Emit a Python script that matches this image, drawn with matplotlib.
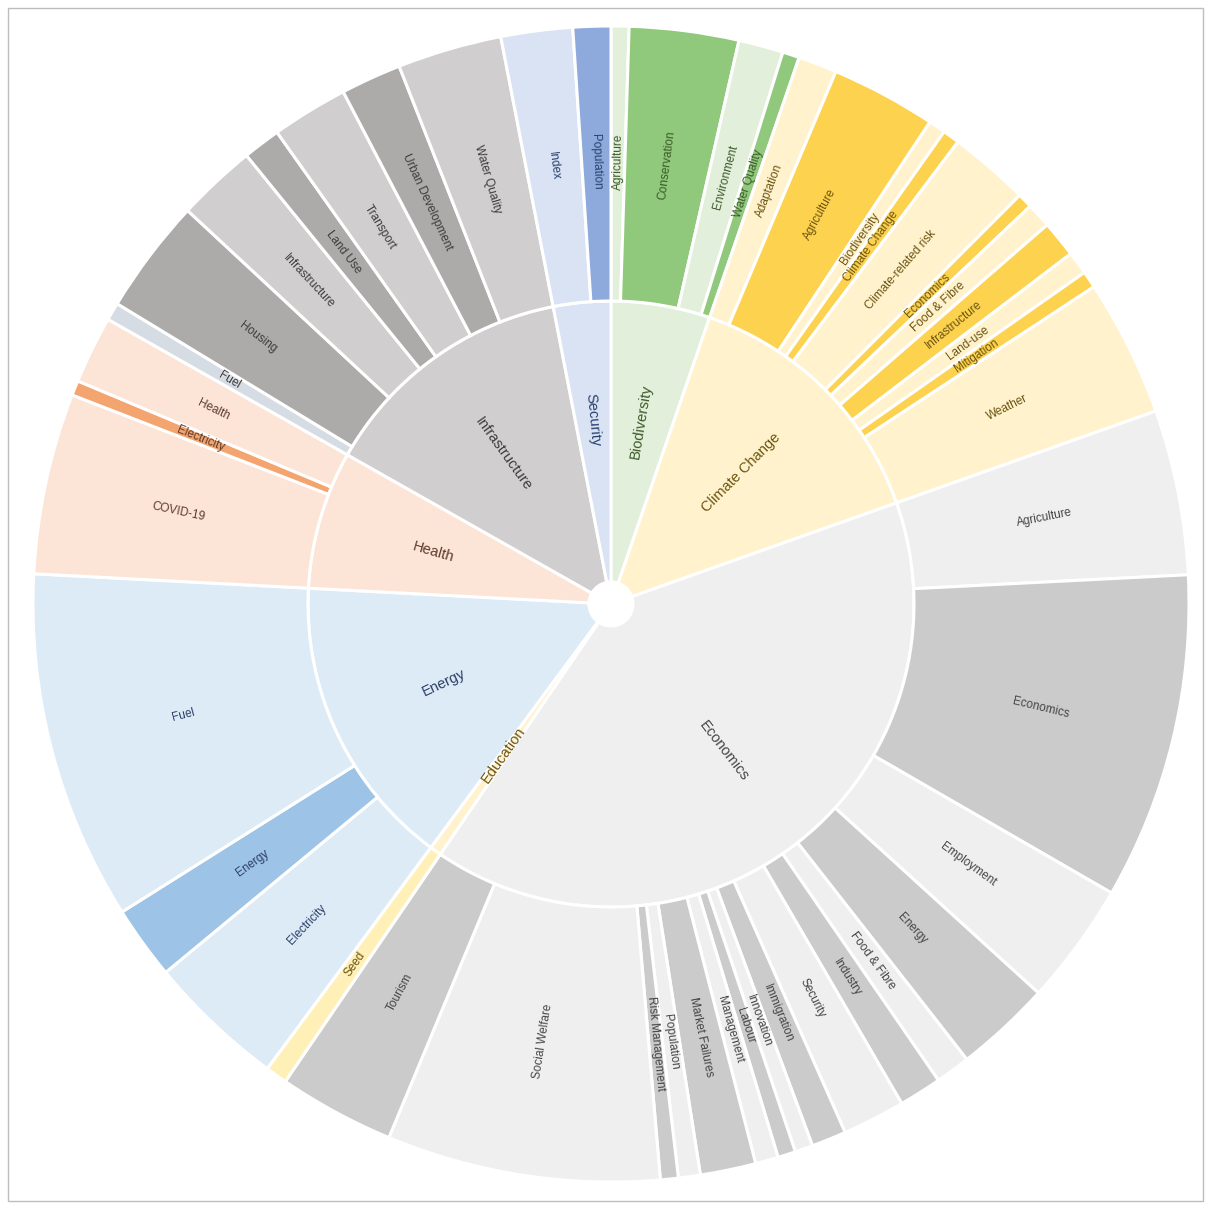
import matplotlib
matplotlib.use("Agg")
import matplotlib.pyplot as plt
from matplotlib.patches import Rectangle

# ---------------- data ----------------
groups = ["Biodiversity", "Climate Change", "Economics", "Education",
          "Energy", "Health", "Infrastructure", "Security"]

bio_labels = ["Agriculture", "Conservation", "Environment", "Water Quality"]
bio_values = [1.8, 11.0, 4.5, 1.7]

cc_labels = ["Adaptation", "Agriculture", "Biodiversity", "Climate Change",
             "Climate-related risk", "Economics", "Food & Fibre",
             "Infrastructure", "Land-use", "Mitigation", "Weather"]
cc_values = [3.9, 10.6, 1.7, 1.7, 8.1, 1.5, 2.5, 3.7, 2.3, 1.7, 13.8]

eco_labels = ["Agriculture", "Economics", "Employment", "Energy",
              "Food & Fibre", "Industry", "Security", "Immigration",
              "Innovation", "Labour", "Management", "Market Failures",
              "Population", "Risk Management", "Social Welfare", "Tourism"]
eco_values = [16.6, 32.9, 12.3, 9.7, 3.5, 4.3, 6.3, 3.5,
              1.8, 1.8, 2.3, 5.6, 2.2, 1.8, 27.5, 11.7]

edu_labels = ["Seed"]
edu_values = [2.2]

energy_labels = ["Electricity", "Energy", "Fuel"]
energy_values = [13.9, 7.4, 35.2]

health_labels = ["COVID-19", "Electricity", "Health"]
health_values = [18.2, 1.5, 6.8]

infra_labels = ["Fuel", "Housing", "Infrastructure", "Land Use",
                "Transport", "Urban Development", "Water Quality"]
infra_values = [1.8, 11.6, 8.0, 3.8, 7.7, 6.1, 10.5]

sec_labels = ["Index", "Population"]
sec_values = [7.2, 3.8]

children_labels = [bio_labels, cc_labels, eco_labels, edu_labels,
                   energy_labels, health_labels, infra_labels, sec_labels]
children_values = [bio_values, cc_values, eco_values, edu_values,
                   energy_values, health_values, infra_values, sec_values]

# ---------------- style ----------------
light = {"Biodiversity": "#e2efda", "Climate Change": "#fff2cc",
         "Economics": "#efefef", "Education": "#fff2cc",
         "Energy": "#ddebf7", "Health": "#fce4d6",
         "Infrastructure": "#d0cece", "Security": "#dae3f3"}
dark = {"Biodiversity": "#90c97b", "Climate Change": "#fdd24e",
        "Economics": "#cbcbcb", "Education": "#fff0b8",
        "Energy": "#9dc3e6", "Health": "#f4a46e",
        "Infrastructure": "#adaaaa", "Security": "#8eaadc"}
text_col = {"Biodiversity": "#3d5a2a", "Climate Change": "#6b5410",
            "Economics": "#444444", "Education": "#6b5410",
            "Energy": "#2c3f66", "Health": "#5c3b2a",
            "Infrastructure": "#3d3b3b", "Security": "#27406e"}

inner_colors = [light[g] for g in groups]
outer_colors, outer_text_colors, outer_labels, outer_values = [], [], [], []
for g, labs, vals in zip(groups, children_labels, children_values):
    for i, (lab, v) in enumerate(zip(labs, vals)):
        if g == "Education":
            c = dark[g]
        elif g == "Infrastructure" and lab == "Fuel":
            c = "#d6dce4"
        else:
            c = light[g] if i % 2 == 0 else dark[g]
        outer_colors.append(c)
        outer_text_colors.append(text_col[g])
        outer_labels.append(lab)
        outer_values.append(v)
inner_values = [sum(v) for v in children_values]

# ---------------- figure ----------------
W, H = 1211, 1210
fig = plt.figure(figsize=(W / 100, H / 100), dpi=100)
fig.patch.set_facecolor("white")
cx, cy, R = 611, 604, 578
ax = fig.add_axes([(cx - R) / W, (H - cy - R) / H, 2 * R / W, 2 * R / H])
ax.set_xlim(-1, 1)
ax.set_ylim(-1, 1)
ax.set_aspect("equal")
ax.axis("off")

r_hole = 22 / R
r_mid = 303 / R

wp = dict(edgecolor="white", linewidth=2.2)
inner_wedges, _ = ax.pie(inner_values, radius=r_mid, colors=inner_colors,
                         startangle=90, counterclock=False,
                         wedgeprops=dict(width=r_mid - r_hole, **wp))
outer_wedges, _ = ax.pie(outer_values, radius=1.0, colors=outer_colors,
                         startangle=90, counterclock=False,
                         wedgeprops=dict(width=1.0 - r_mid, **wp))
ax.set_xlim(-1, 1)
ax.set_ylim(-1, 1)

import math


def put_label(w, text, r, size, color):
    mid = 0.5 * (w.theta1 + w.theta2)
    x = r * math.cos(math.radians(mid))
    y = r * math.sin(math.radians(mid))
    rot = ((mid + 90) % 180) - 90
    ax.text(x, y, text, rotation=rot, rotation_mode="anchor",
            ha="center", va="center", fontsize=size, color=color,
            family=["Liberation Sans", "DejaVu Sans"])


for w, g in zip(inner_wedges, groups):
    put_label(w, g, 0.32, 10.5, text_col[g])
for w, lab, c in zip(outer_wedges, outer_labels, outer_text_colors):
    put_label(w, lab, 0.765, 8.5, c)

# outer frame of the picture
fig.add_artist(Rectangle((8 / W, 1 - 1201 / H), (1203 - 8) / W, (1201 - 8) / H,
                         transform=fig.transFigure, fill=False,
                         edgecolor="#bdbdbd", linewidth=1.0))

fig.savefig("out.png", dpi=100, facecolor="white")
